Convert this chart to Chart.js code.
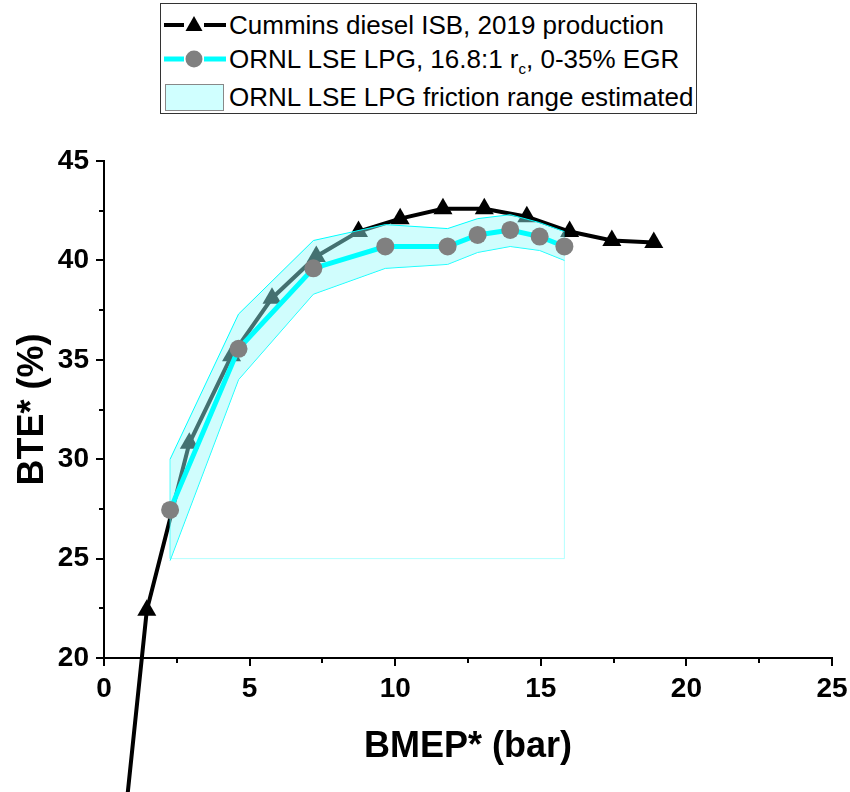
<!DOCTYPE html>
<html><head><meta charset="utf-8">
<script src="https://cdn.jsdelivr.net/npm/chart.js@4.4.1/dist/chart.umd.min.js"></script>
<style>
html,body{margin:0;padding:0;background:#fff;}
#wrap{position:relative;width:850px;height:792px;overflow:hidden;}
#chart{position:absolute;left:0;top:0;}
#legend{position:absolute;left:160px;top:3px;width:537px;height:111px;border:1px solid #333;box-sizing:border-box;font-family:"Liberation Sans",Arial,sans-serif;font-size:26px;color:#000;background:#fff;}
.row{position:absolute;left:0;height:34px;width:535px;}
.row svg{position:absolute;left:1px;top:0;}
.row span{position:absolute;left:68px;top:0;line-height:34px;white-space:nowrap;}
sub{font-size:15px;vertical-align:-6px;line-height:0;}
</style>
</head><body>
<div id="wrap">
<canvas id="chart" width="850" height="792"></canvas>
<div id="legend">
  <div class="row" style="top:4px"><svg width="66" height="34"><line x1="2" y1="17" x2="22" y2="17" stroke="#000" stroke-width="4"/><line x1="42" y1="17" x2="64" y2="17" stroke="#000" stroke-width="4"/><polygon points="32,8 40.5,23 23.5,23" fill="#000"/></svg><span>Cummins diesel ISB, 2019 production</span></div>
  <div class="row" style="top:38px"><svg width="66" height="34"><line x1="2" y1="17" x2="22" y2="17" stroke="#00ffff" stroke-width="5"/><line x1="42" y1="17" x2="64" y2="17" stroke="#00ffff" stroke-width="5"/><circle cx="32" cy="17" r="8.5" fill="#808080"/></svg><span>ORNL LSE LPG, 16.8:1 r<sub>c</sub>, 0-35% EGR</span></div>
  <div class="row" style="top:76px"><svg width="66" height="34"><rect x="3.5" y="4.5" width="58" height="26" fill="#d0ffff" stroke="#888" stroke-width="1"/></svg><span>ORNL LSE LPG friction range estimated</span></div>
</div>
</div>
<script>
// ---- data ----
const cumminsBMEP = [0.4, 1.47, 2.93, 4.38, 5.77, 7.29, 8.74, 10.17, 11.64, 13.06, 14.52, 15.99, 17.44, 18.88];
const cumminsBTE  = [7.4, 22.4, 30.8, 35.2, 38.1, 40.2, 41.45, 42.1, 42.6, 42.6, 42.2, 41.45, 41.0, 40.9];
const ornlBMEP = [2.27, 4.62, 7.19, 9.66, 11.8, 12.83, 13.95, 14.96, 15.81];
const ornlBTE  = [27.45, 35.55, 39.6, 40.7, 40.7, 41.28, 41.53, 41.2, 40.7];
const frictionUpper = [30.0, 37.3, 41.0, 41.8, 41.6, 42.1, 42.3, 41.9, 41.45];
const frictionLower = [24.9, 34.0, 38.3, 39.6, 39.8, 40.4, 40.7, 40.5, 40.0];
const frictionBase = 25;
const xMinorTicks = [2.5, 7.5, 12.5, 17.5, 22.5];
const yMinorTicks = [22.5, 27.5, 32.5, 37.5, 42.5];
const xLabel = 'BMEP* (bar)';
const yLabel = 'BTE* (%)';

const FONT = '"Liberation Sans", Arial, Helvetica, sans-serif';
Chart.defaults.font.family = FONT;
Chart.defaults.color = '#000';

const pts = (xs, ys) => xs.map((x, i) => ({x, y: ys[i]}));
const nLast = ornlBMEP.length - 1;
const closingPath = [
  {x: ornlBMEP[0], y: frictionUpper[0]},
  {x: ornlBMEP[0], y: frictionBase},
  {x: ornlBMEP[nLast], y: frictionBase},
  {x: ornlBMEP[nLast], y: frictionUpper[nLast]}
];

const minorTicks = {
  id: 'minorTicks',
  afterDraw(chart) {
    const {ctx, chartArea: a, scales: {x, y}} = chart;
    ctx.save();
    ctx.strokeStyle = '#000';
    ctx.lineWidth = 2;
    xMinorTicks.forEach(v => {
      const p = Math.round(x.getPixelForValue(v));
      ctx.beginPath(); ctx.moveTo(p, a.bottom); ctx.lineTo(p, a.bottom + 5); ctx.stroke();
    });
    yMinorTicks.forEach(v => {
      const p = Math.round(y.getPixelForValue(v));
      ctx.beginPath(); ctx.moveTo(a.left, p); ctx.lineTo(a.left - 5, p); ctx.stroke();
    });
    ctx.restore();
  }
};

new Chart(document.getElementById('chart'), {
  type: 'scatter',
  data: {
    datasets: [
      {
        label: 'ORNL LSE LPG, 16.8:1 rc, 0-35% EGR',
        data: pts(ornlBMEP, ornlBTE),
        showLine: true,
        borderColor: '#00ffff',
        borderWidth: 5,
        pointRadius: 9,
        pointHoverRadius: 9,
        pointBackgroundColor: '#808080',
        pointBorderWidth: 0,
        order: 0
      },
      {
        label: 'friction upper',
        data: pts(ornlBMEP, frictionUpper),
        showLine: true,
        borderColor: '#00ffff',
        borderWidth: 1,
        pointRadius: 0,
        fill: '+1',
        backgroundColor: 'rgba(150,250,250,0.45)',
        order: 1
      },
      {
        label: 'friction lower',
        data: pts(ornlBMEP, frictionLower),
        showLine: true,
        borderColor: '#00ffff',
        borderWidth: 1,
        pointRadius: 0,
        fill: false,
        order: 2
      },
      {
        label: 'friction closing',
        data: closingPath,
        showLine: true,
        borderColor: 'rgba(0,255,255,0.3)',
        borderWidth: 1,
        pointRadius: 0,
        fill: false,
        order: 3
      },
      {
        label: 'Cummins diesel ISB, 2019 production',
        data: pts(cumminsBMEP, cumminsBTE),
        showLine: true,
        borderColor: '#000',
        borderWidth: 4,
        pointStyle: 'triangle',
        pointRadius: ctx => ctx.dataIndex === 0 ? 0 : 11,
        pointHoverRadius: 11,
        pointBackgroundColor: '#000',
        pointBorderWidth: 0,
        clip: false,
        order: 4
      }
    ]
  },
  options: {
    responsive: false,
    animation: false,
    events: [],
    layout: {padding: {left: 0, right: 18, top: 161, bottom: 0}},
    plugins: {legend: {display: false}, tooltip: {enabled: false}},
    scales: {
      x: {
        type: 'linear', min: 0, max: 25,
        ticks: {stepSize: 5, font: {size: 28, weight: 'bold'}, color: '#000', padding: 6, maxRotation: 0},
        grid: {drawOnChartArea: false, drawTicks: true, tickLength: 8, color: '#000', lineWidth: 2},
        border: {color: '#000', width: 2},
        title: {display: true, text: xLabel, font: {size: 36, weight: 'bold'}, color: '#000', padding: {top: 0, bottom: 23}},
        afterFit(s) { s.height = 134; s.paddingLeft = 0; s.paddingRight = 0; }
      },
      y: {
        type: 'linear', min: 20, max: 45,
        ticks: {stepSize: 5, font: {size: 28, weight: 'bold'}, color: '#000', padding: 7},
        grid: {drawOnChartArea: false, drawTicks: true, tickLength: 8, color: '#000', lineWidth: 2},
        border: {color: '#000', width: 2},
        title: {display: true, text: yLabel, font: {size: 36, weight: 'bold'}, color: '#000', padding: {top: 11, bottom: 0}},
        afterFit(s) { s.width = 104; s.paddingTop = 0; s.paddingBottom = 0; }
      }
    }
  },
  plugins: [minorTicks]
});
</script>
</body></html>
